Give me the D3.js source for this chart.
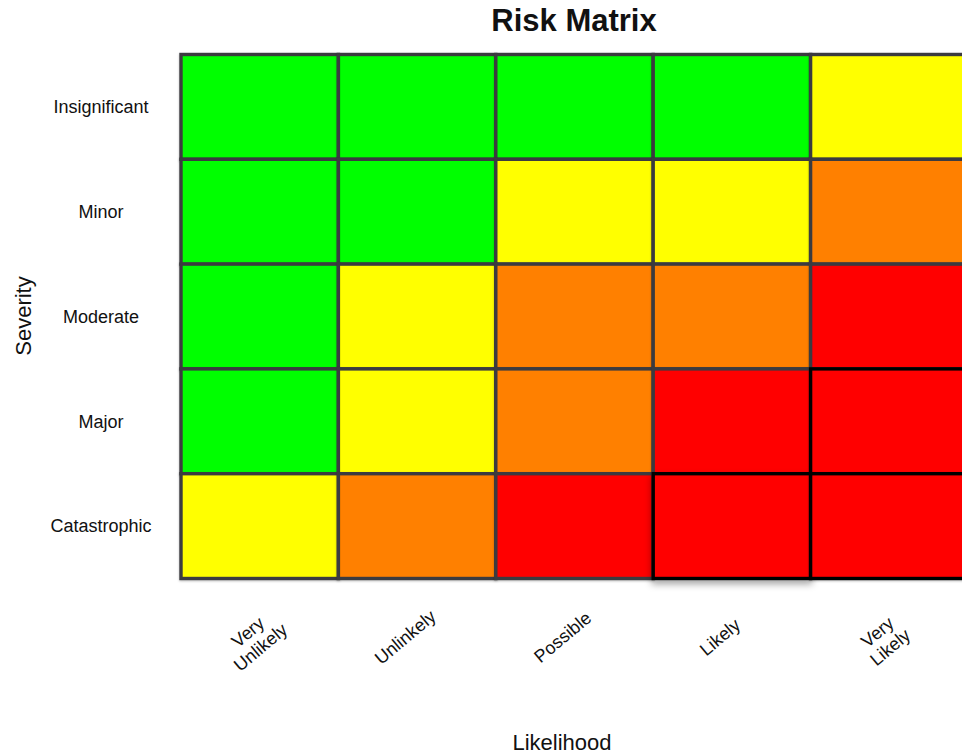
<!DOCTYPE html>
<html>
<head>
<meta charset="utf-8">
<script src="https://cdn.jsdelivr.net/npm/d3@7/dist/d3.min.js"></script>
<style>
  html, body { margin: 0; padding: 0; background: #fff; overflow: hidden; }
  text { font-family: "Liberation Sans", Arial, Helvetica, sans-serif; fill: #111; }
</style>
</head>
<body>
<script>
// Likelihood along the x axis, severity down the y axis
const likelihood = ["Very Unlikely", "Unlinkely", "Possible", "Likely", "Very Likely"];
const severity = ["Insignificant", "Minor", "Moderate", "Major", "Catastrophic"];

// Risk score for each severity row (top to bottom), one entry per likelihood column
const scoresInsignificant = [1, 2, 3, 4, 5];
const scoresMinor         = [2, 4, 6, 8, 10];
const scoresModerate      = [3, 6, 9, 12, 15];
const scoresMajor         = [4, 8, 12, 16, 20];
const scoresCatastrophic  = [5, 10, 15, 20, 25];
const scoreRows = [scoresInsignificant, scoresMinor, scoresModerate, scoresMajor, scoresCatastrophic];

// Score bands and their colours
const levelBreaks = [5, 9, 15];
const levelColors = ["#00ff00", "#ffff00", "#ff8000", "#ff0000"];
const criticalScore = 20;
const selectedCell = { likelihood: "Likely", severity: "Catastrophic" };

const W = 962, H = 756;
const svg = d3.select("body").append("svg")
  .attr("width", W).attr("height", H);

const defs = svg.append("defs");
const soft = defs.append("filter").attr("id", "soft")
  .attr("x", "-5%").attr("y", "-5%").attr("width", "110%").attr("height", "115%");
soft.append("feDropShadow").attr("dx", 0).attr("dy", 1).attr("stdDeviation", 0.8)
  .attr("flood-color", "#000").attr("flood-opacity", 0.25);
const lifted = defs.append("filter").attr("id", "lifted")
  .attr("x", "-10%").attr("y", "-10%").attr("width", "120%").attr("height", "130%");
lifted.append("feDropShadow").attr("dx", 0).attr("dy", 4).attr("stdDeviation", 3.5)
  .attr("flood-color", "#000").attr("flood-opacity", 0.35);

const x = d3.scaleBand().domain(likelihood).range([181, 968]).padding(0);
const y = d3.scaleBand().domain(severity).range([54.5, 578.5]).padding(0);
const color = d3.scaleThreshold().domain(levelBreaks).range(levelColors);

const cells = [];
severity.forEach((s, i) => {
  likelihood.forEach((l, j) => {
    cells.push({ severity: s, likelihood: l, score: scoreRows[i][j] });
  });
});

svg.append("g").selectAll("rect")
  .data(cells)
  .join("rect")
  .attr("x", d => x(d.likelihood))
  .attr("y", d => y(d.severity))
  .attr("width", x.bandwidth())
  .attr("height", y.bandwidth())
  .attr("fill", d => color(d.score))
  .attr("stroke", d => d.score >= criticalScore ? "#000" : "#3b3b3f")
  .attr("stroke-width", 3.4)
  .attr("filter", d => (d.likelihood === selectedCell.likelihood && d.severity === selectedCell.severity)
    ? "url(#lifted)" : "url(#soft)");

// Title
svg.append("text")
  .attr("x", 574).attr("y", 31)
  .attr("text-anchor", "middle")
  .style("font-size", "31px").style("font-weight", "bold")
  .text("Risk Matrix");

// Severity labels
const yAxis = d3.axisLeft(y).tickSize(0).tickPadding(0);
const gy = svg.append("g").attr("transform", "translate(101,0)").call(yAxis);
gy.select(".domain").remove();
gy.selectAll(".tick text")
  .attr("x", 0).attr("dy", "0.35em")
  .attr("text-anchor", "middle")
  .style("font-size", "18px")
  .style("font-family", "'Liberation Sans', Arial, sans-serif")
  .attr("fill", "#111");

// Likelihood labels, rotated, split onto two lines where they have two words
const xAxis = d3.axisBottom(x).tickSize(0).tickPadding(0);
const gx = svg.append("g").attr("transform", "translate(-12,0)").call(xAxis);
gx.select(".domain").remove();
gx.selectAll(".tick").each(function(d) {
  const t = d3.select(this);
  const tx = t.select("text");
  tx.text(null)
    .attr("x", 0).attr("y", 0).attr("dy", null)
    .attr("text-anchor", "middle")
    .style("font-size", "18px")
    .style("font-family", "'Liberation Sans', Arial, sans-serif")
    .attr("fill", "#111");
  const words = d.split(" ");
  const twoLines = d.startsWith("Very ");
  const lines = twoLines ? [words[0], words.slice(1).join(" ")] : [d];
  lines.forEach((w, k) => {
    tx.append("tspan").attr("x", 0).attr("dy", k === 0 ? "0.35em" : "1.1em").text(w);
  });
  const cx = 0, cy = twoLines ? 632 : 637;
  tx.attr("transform", `translate(${cx},${cy}) rotate(-40)`);
});

// Axis titles
svg.append("text")
  .attr("transform", "translate(31,316) rotate(-90)")
  .attr("text-anchor", "middle")
  .style("font-size", "22px")
  .text("Severity");

svg.append("text")
  .attr("x", 562).attr("y", 750)
  .attr("text-anchor", "middle")
  .style("font-size", "22px")
  .text("Likelihood");
</script>
</body>
</html>
